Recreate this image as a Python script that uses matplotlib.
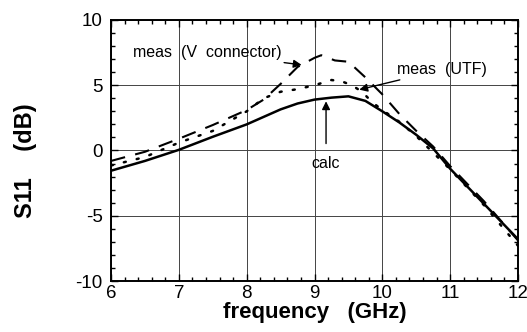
import matplotlib
matplotlib.use("Agg")
import matplotlib.pyplot as plt
from matplotlib.ticker import MultipleLocator

plt.rcParams['font.family'] = ['Liberation Sans', 'DejaVu Sans']
plt.rcParams['axes.unicode_minus'] = False

# values
freq_calc = [6.0, 6.5, 7.0, 7.5, 8.0, 8.5, 8.75, 9.0, 9.25, 9.5, 9.75, 10.0,
             10.25, 10.5, 10.75, 11.0, 11.5, 12.0]
s11_calc = [-1.55, -0.8, 0.05, 1.05, 2.0, 3.15, 3.6, 3.9, 4.05, 4.15, 3.8, 3.0,
            2.15, 1.2, 0.15, -1.4, -4.1, -6.8]

freq_vconn = [6.0, 6.5, 7.0, 7.5, 8.0, 8.25, 8.5, 8.75, 9.0, 9.1, 9.3, 9.5,
              9.75, 10.0, 10.25, 10.5, 10.75, 11.0, 11.5, 12.0]
s11_vconn = [-0.8, -0.1, 0.9, 1.95, 3.1, 3.9, 5.1, 6.4, 7.1, 7.3, 6.9, 6.8,
             5.6, 4.3, 2.8, 1.5, 0.3, -1.2, -3.9, -6.9]

freq_utf = [6.0, 6.5, 7.0, 7.5, 8.0, 8.25, 8.5, 8.75, 9.0, 9.25, 9.4, 9.55,
            9.7, 9.85, 10.0, 10.25, 10.5, 11.0, 11.5, 12.0]
s11_utf = [-1.15, -0.5, 0.6, 1.5, 3.0, 4.0, 4.5, 4.7, 5.0, 5.4, 5.3, 5.0,
           4.5, 3.7, 3.1, 2.2, 1.1, -1.45, -4.2, -7.3]

fig = plt.figure(figsize=(5.27, 3.32), dpi=100)
ax = fig.add_axes([0.2106, 0.1536, 0.7724, 0.7862])

ax.plot(freq_calc, s11_calc, color='black', lw=1.8, ls='-')
ax.plot(freq_vconn, s11_vconn, color='black', lw=1.5, ls=(0, (7, 5)))
ax.plot(freq_utf, s11_utf, color='black', lw=1.8, ls=(0, (0.8, 4.5)),
        dash_capstyle='round')

ax.set_xlim(6, 12)
ax.set_ylim(-10, 10)
ax.xaxis.set_major_locator(MultipleLocator(1))
ax.xaxis.set_minor_locator(MultipleLocator(0.2))
ax.yaxis.set_major_locator(MultipleLocator(5))
ax.yaxis.set_minor_locator(MultipleLocator(1))
ax.grid(True, which='major', color='#444444', lw=0.7)
ax.tick_params(which='both', direction='in', top=True, right=True,
               labelsize=13.5, width=1.0)
ax.tick_params(which='major', length=5)
ax.tick_params(which='minor', length=3)
ax.tick_params(axis='x', pad=3)
ax.tick_params(axis='y', pad=6)
for s in ax.spines.values():
    s.set_linewidth(1.4)

ax.set_xlabel('frequency   (GHz)', fontsize=16, fontweight='bold', labelpad=0)
ax.set_ylabel('S11    (dB)', fontsize=17, fontweight='bold')
ax.yaxis.set_label_coords(-0.182, 0.46)

arrow = dict(arrowstyle='-|>', color='black', lw=1.0,
             mutation_scale=12, shrinkA=0, shrinkB=0)
ax.annotate('meas  (V  connector)', xy=(8.81, 6.56), xytext=(6.32, 7.5),
            fontsize=11.5, va='center', ha='left', arrowprops=arrow)
ax.annotate('meas  (UTF)', xy=(9.66, 4.66), xytext=(10.22, 6.2),
            fontsize=11.5, va='center', ha='left', arrowprops=arrow)
ax.annotate('calc', xy=(9.17, 3.77), xytext=(9.17, -1.0),
            fontsize=11.5, va='center', ha='center',
            arrowprops=dict(arrow, shrinkA=7))

fig.savefig('out.png', dpi=100)
